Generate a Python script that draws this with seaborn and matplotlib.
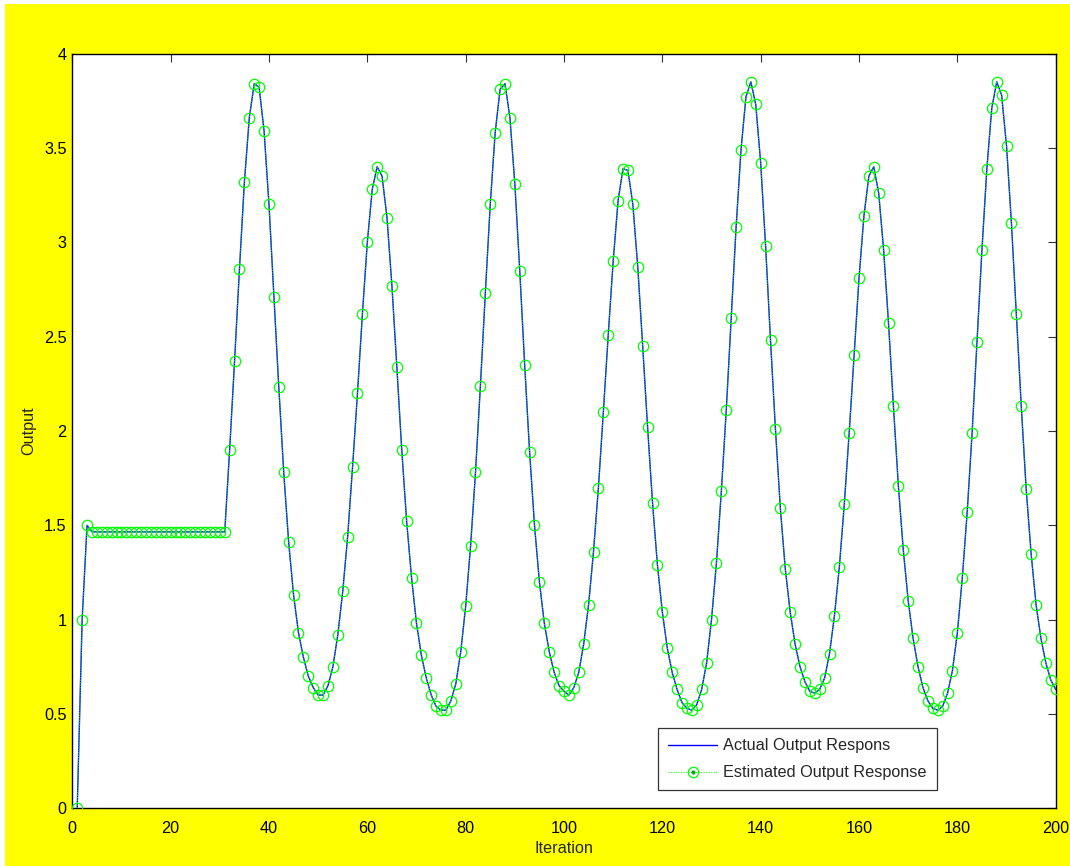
import numpy as np
import pandas as pd
import matplotlib
matplotlib.use("Agg")
import matplotlib.pyplot as plt
import seaborn as sns
from matplotlib.lines import Line2D
from matplotlib.patches import Rectangle
from matplotlib.legend_handler import HandlerTuple

# Iteration index and the system output at each iteration
iterations = list(range(1, 201))

output_values = [
    0.00, 1.00, 1.50,
    1.465, 1.465, 1.465, 1.465, 1.465, 1.465, 1.465, 1.465, 1.465, 1.465,
    1.465, 1.465, 1.465, 1.465, 1.465, 1.465, 1.465, 1.465, 1.465, 1.465,
    1.465, 1.465, 1.465, 1.465, 1.465, 1.465, 1.465, 1.465,
    1.90, 2.37, 2.86, 3.32, 3.66, 3.84, 3.82, 3.59, 3.20,            # 32-40
    2.71, 2.23, 1.78, 1.41, 1.13, 0.93, 0.80, 0.70, 0.64, 0.60,      # 41-50
    0.60, 0.65, 0.75, 0.92, 1.15, 1.44, 1.81, 2.20, 2.62, 3.00,      # 51-60
    3.28, 3.40, 3.35, 3.13, 2.77, 2.34, 1.90, 1.52, 1.22, 0.98,      # 61-70
    0.81, 0.69, 0.60, 0.54, 0.52, 0.52, 0.57, 0.66, 0.83, 1.07,      # 71-80
    1.39, 1.78, 2.24, 2.73, 3.20, 3.58, 3.81, 3.84, 3.66, 3.31,      # 81-90
    2.85, 2.35, 1.89, 1.50, 1.20, 0.98, 0.83, 0.72, 0.65, 0.62,      # 91-100
    0.60, 0.64, 0.72, 0.87, 1.08, 1.36, 1.70, 2.10, 2.51, 2.90,      # 101-110
    3.22, 3.39, 3.38, 3.20, 2.87, 2.45, 2.02, 1.62, 1.29, 1.04,      # 111-120
    0.85, 0.72, 0.63, 0.56, 0.53, 0.52, 0.55, 0.63, 0.77, 1.00,      # 121-130
    1.30, 1.68, 2.11, 2.60, 3.08, 3.49, 3.77, 3.85, 3.73, 3.42,      # 131-140
    2.98, 2.48, 2.01, 1.59, 1.27, 1.04, 0.87, 0.75, 0.67, 0.62,      # 141-150
    0.61, 0.63, 0.69, 0.82, 1.02, 1.28, 1.61, 1.99, 2.40, 2.81,      # 151-160
    3.14, 3.35, 3.40, 3.26, 2.96, 2.57, 2.13, 1.71, 1.37, 1.10,      # 161-170
    0.90, 0.75, 0.64, 0.57, 0.53, 0.52, 0.54, 0.61, 0.73, 0.93,      # 171-180
    1.22, 1.57, 1.99, 2.47, 2.96, 3.39, 3.71, 3.85, 3.78, 3.51,      # 181-190
    3.10, 2.62, 2.13, 1.69, 1.35, 1.08, 0.90, 0.77, 0.68, 0.63,      # 191-200
]

actual_output = output_values
estimated_output = output_values

x_ticks = list(range(0, 201, 20))
y_ticks = [0, 0.5, 1, 1.5, 2, 2.5, 3, 3.5, 4]
y_tick_labels = ["0", "0.5", "1", "1.5", "2", "2.5", "3", "3.5", "4"]

df = pd.DataFrame({
    "Iteration": iterations,
    "Actual": actual_output,
    "Estimated": estimated_output,
})

sns.set_theme(style="white")
plt.rcParams["font.family"] = ["Liberation Sans", "DejaVu Sans"]
FS = 11.7
plt.rcParams["font.size"] = FS

W, H = 1070, 866
fig = plt.figure(figsize=(W / 100, H / 100), dpi=100, facecolor="white")
# yellow figure panel, leaving a thin white strip along the top and left
fig.patches.append(Rectangle((5 / W, 0), 1 - 5 / W, (H - 4) / H,
                             transform=fig.transFigure, facecolor="#ffff00",
                             edgecolor="none", zorder=-10))

ax = fig.add_axes([72.3 / W, (H - 808.3) / H, (1055.7 - 72.3) / W, (808.3 - 53.5) / H])
ax.set_facecolor("white")

sns.lineplot(data=df, x="Iteration", y="Actual", ax=ax, color="#0000ff",
             linewidth=1.0, estimator=None, sort=False, zorder=2)
sns.lineplot(data=df, x="Iteration", y="Estimated", ax=ax, color="#00ff00",
             linewidth=0.6, linestyle=(0, (1.5, 1.5)), estimator=None, sort=False,
             marker="o", markersize=7.5, markerfacecolor="none",
             markeredgecolor="#00ff00", markeredgewidth=0.9, zorder=3)

ax.set_xlim(0, 200)
ax.set_ylim(0, 4)
ax.set_xticks(x_ticks)
ax.set_yticks(y_ticks)
ax.set_yticklabels(y_tick_labels)
ax.tick_params(direction="in", length=6, width=0.8, color="#333333",
               top=True, right=True, labelsize=FS, labelcolor="black")
ax.tick_params(axis="x", pad=9)
ax.tick_params(axis="y", pad=4)
ax.set_xlabel("Iteration", fontsize=FS, labelpad=4)
ax.set_ylabel("Output", fontsize=FS, labelpad=5.5)
for side in ax.spines.values():
    side.set_visible(True)
    side.set_color("black")
    side.set_linewidth(1.0)

# Legend entries: plain solid line, and dotted line with a ringed marker
h_actual = Line2D([], [], color="#0000ff", linewidth=1.0)
h_est_line = Line2D([], [], color="#00ff00", linewidth=0.6, linestyle=(0, (1.5, 1.5)),
                    marker="o", markersize=7.5, markerfacecolor="none",
                    markeredgecolor="#00ff00", markeredgewidth=0.9)
h_est_dot = Line2D([], [], linestyle="none", marker=".", markersize=4,
                   color="#00aa00")
leg = ax.legend([h_actual, (h_est_line, h_est_dot)],
                ["Actual Output Respons", "Estimated Output Response"],
                handler_map={tuple: HandlerTuple(ndivide=1, pad=0)},
                loc="lower right", bbox_to_anchor=(0.879, 0.024),
                borderaxespad=0, fontsize=FS, frameon=True, fancybox=False,
                edgecolor="black", handlelength=3.0, handletextpad=0.4,
                borderpad=0.6, labelspacing=0.75)
leg.get_frame().set_linewidth(0.9)

fig.savefig("out.png", dpi=100, facecolor=fig.get_facecolor())
